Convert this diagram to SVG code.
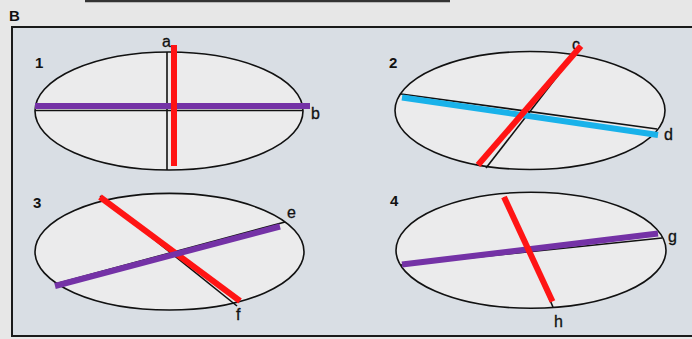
<svg xmlns="http://www.w3.org/2000/svg" width="692" height="339" viewBox="0 0 692 339">
<style>
.ell{fill:#ebebec;stroke:#111;stroke-width:1.6}
.ax{stroke:#111;stroke-width:1.6;fill:none}
.red{stroke:#ff1414;stroke-width:6;fill:none}
.pur{stroke:#7432a6;stroke-width:6;fill:none}
.blu{stroke:#19b2ea;stroke-width:6;fill:none}
.lbl{font-family:"Liberation Sans",Arial,sans-serif;font-size:16px;fill:#111;stroke:#111;stroke-width:0.3}
.num{font-family:"Liberation Sans",Arial,sans-serif;font-size:15px;font-weight:bold;fill:#111}
</style>
<rect x="0" y="0" width="692" height="339" fill="#e7e7e7"/>
<line x1="85" y1="1" x2="450" y2="1" stroke="#333" stroke-width="2.5"/>
<text x="9" y="21" class="num">B</text>
<rect x="12" y="27" width="690" height="309" fill="#d9dee4" stroke="#1a1a1a" stroke-width="2"/>

<g id="panel1">
<ellipse class="ell" cx="169" cy="111" rx="134" ry="59"/>
<line class="ax" x1="35" y1="110.5" x2="303" y2="110.5"/>
<line class="ax" x1="167" y1="52" x2="167" y2="170"/>
<text x="35" y="68" class="num">1</text>
<text x="162" y="47" class="lbl">a</text>
<text x="311" y="119" class="lbl">b</text>
</g>

<g id="panel2">
<ellipse class="ell" cx="530" cy="110.5" rx="135" ry="59"/>
<line class="ax" x1="401" y1="94" x2="657" y2="129"/>
<line class="ax" x1="486" y1="168" x2="577" y2="51"/>
<text x="389" y="68" class="num">2</text>
<text x="572" y="50" class="lbl">c</text>
<text x="664" y="140" class="lbl">d</text>
</g>

<g id="panel3">
<ellipse class="ell" cx="169.5" cy="251.7" rx="134.5" ry="58.3"/>
<line class="ax" x1="55" y1="284" x2="285" y2="222"/>
<line class="ax" x1="100" y1="196" x2="237" y2="306"/>
<text x="33" y="208" class="num">3</text>
<text x="287" y="218" class="lbl">e</text>
<text x="236" y="320" class="lbl">f</text>
</g>

<g id="panel4">
<ellipse class="ell" cx="531" cy="250.3" rx="135" ry="58"/>
<line class="ax" x1="401" y1="265" x2="662" y2="238"/>
<line class="ax" x1="504" y1="197" x2="553" y2="307"/>
<text x="390" y="206" class="num">4</text>
<text x="668" y="242" class="lbl">g</text>
<text x="554" y="327" class="lbl">h</text>
</g>

<g id="connectors">
<line class="pur" x1="35" y1="106" x2="310" y2="106"/>
<line class="red" x1="174" y1="45" x2="174" y2="166"/>
<line class="blu" x1="402" y1="97.5" x2="658" y2="135"/>
<line class="red" x1="478" y1="165" x2="581" y2="46"/>
<line class="red" x1="100" y1="197" x2="240" y2="301"/>
<line class="pur" x1="55" y1="286" x2="280" y2="226.5"/>
<line class="pur" x1="402" y1="264.5" x2="658" y2="233.5"/>
<line class="red" x1="504" y1="197" x2="552.5" y2="301.5"/>
</g>
</svg>
